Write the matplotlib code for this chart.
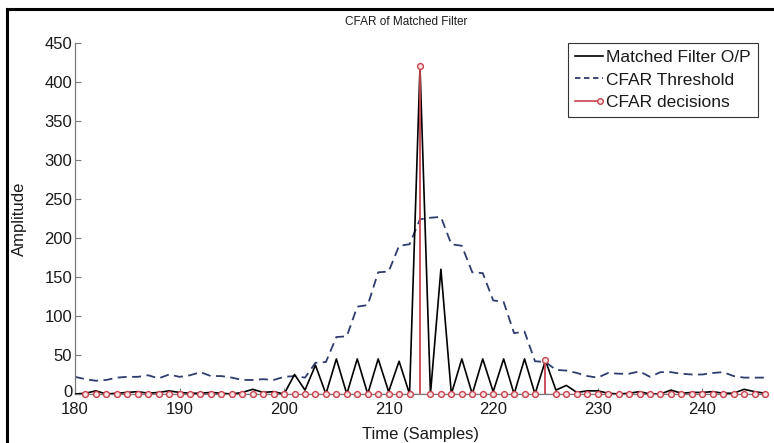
import matplotlib
matplotlib.use("Agg")
import matplotlib.pyplot as plt
import matplotlib.transforms as mtransforms
import numpy as np
from matplotlib.lines import Line2D
from matplotlib.legend_handler import HandlerBase

plt.rcParams['font.family'] = ['Liberation Sans', 'DejaVu Sans']

# ---- data ----
samples = list(range(180, 247))
matched_filter = [0, 1, 4, 0, 1, 2, 3, 1, 2, 4, 2, 1, 1, 2, 1, 0, 2, 6, 2, 3,
                  0, 25, 5, 37, 0, 45, 0, 45, 0, 45, 3, 42, 0, 420, 0, 160, 0, 45, 0, 45,
                  3, 45, 0, 45, 0, 43, 5, 11, 2, 4, 4, 1, 0, 1, 3, 0, 0, 5, 1, 2,
                  2, 3, 1, 1, 6, 3, 1]
cfar_threshold = [22, 19, 17, 18, 21, 22, 22, 24, 20, 25, 22, 24, 28, 23, 23, 21, 18, 18, 19, 18,
                  22, 23, 21, 40, 41, 73, 74, 112, 114, 156, 157, 190, 192, 224, 226, 227, 192, 190, 156, 155,
                  120, 118, 78, 80, 42, 41, 31, 30, 27, 23, 21, 27, 26, 26, 29, 22, 28, 28, 26, 25,
                  25, 27, 28, 23, 21, 21, 21]
decision_samples = list(range(181, 247))
decision_values = [420 if s == 213 else (43 if s == 225 else 0) for s in decision_samples]
xticks = [180, 190, 200, 210, 220, 230, 240]
yticks = [0, 50, 100, 150, 200, 250, 300, 350, 400, 450]

RED = '#C9434E'
BLUE = '#2F3C6E'

W, H = 774, 443
fig = plt.figure(figsize=(W / 100, H / 100), dpi=100)
ax = fig.add_axes([75 / W, (H - 394) / H, 690 / W, 351 / H])

ax.plot(samples, matched_filter, color='black', lw=1.2, zorder=3)
ax.plot(samples, cfar_threshold, color=BLUE, lw=1.3, dashes=(5, 3), zorder=2)

# stem plot of decisions
ax.plot([samples[0] + 1, samples[-1]], [0, 0], color=RED, lw=0.9, zorder=3.5)
for s, v in zip(decision_samples, decision_values):
    if v != 0:
        ax.plot([s, s], [0, v], color=RED, lw=1.3, zorder=4)
ax.plot(decision_samples, decision_values, linestyle='none', marker='o', ms=4.2,
        mfc='#F6E3E4', mec=RED, mew=1.0, zorder=5, clip_on=False)

ax.set_xlim(180, 246)
ax.set_ylim(0, 450)
ax.set_xticks(xticks)
ax.set_yticks(yticks)
ax.tick_params(direction='in', length=4, width=0.8, color='#7a7a7a', labelsize=12,
               labelcolor='#1a1a1a')
ax.tick_params(axis='y', pad=2)
ax.tick_params(axis='x', pad=6)
for side in ['top', 'right']:
    ax.spines[side].set_visible(False)
for side in ['left', 'bottom']:
    ax.spines[side].set_color('#7a7a7a')
    ax.spines[side].set_linewidth(0.9)

ax.set_ylabel('Amplitude', fontsize=12, color='#1a1a1a')
ax.yaxis.set_label_coords((27 - 75) / 690, 0.5)
ax.set_xlabel('Time (Samples)', fontsize=12, color='#1a1a1a')
ax.xaxis.set_label_coords(0.5, (394 - 427) / 351)

fig.text(406 / W, 1 - 22 / H, 'CFAR of Matched Filter', fontsize=8.5, ha='center',
         va='center', color='#1a1a1a')

# nudge the "0" y-tick label up slightly so it sits just above "180"
fig.canvas.draw()
zero_lbl = ax.get_yticklabels()[0]
zero_lbl.set_transform(zero_lbl.get_transform() +
                       mtransforms.ScaledTranslation(0, 3 / 100, fig.dpi_scale_trans))


class StemHandler(HandlerBase):
    def create_artists(self, legend, orig_handle, xdescent, ydescent, width, height,
                       fontsize, trans):
        y = height / 2 - ydescent
        line = Line2D([-xdescent, width - xdescent], [y, y], color=RED, lw=1.2,
                      transform=trans)
        mk = Line2D([width - xdescent - 2], [y], marker='o', ms=4, mfc='#F6E3E4',
                    mec=RED, mew=1.0, transform=trans)
        return [line, mk]


h1 = Line2D([], [], color='black', lw=1.2)
h2 = Line2D([], [], color=BLUE, lw=1.3, dashes=(3, 2))
h3 = Line2D([], [], color=RED)
leg = fig.legend([h1, h2, h3], ['Matched Filter O/P', 'CFAR Threshold', 'CFAR decisions'],
                 loc='upper right', bbox_to_anchor=(758 / W, 1 - 43 / H),
                 fontsize=12.5, handlelength=1.6, handletextpad=0.2, borderpad=0.4,
                 labelspacing=0.42, borderaxespad=0, fancybox=False, framealpha=1,
                 edgecolor='#333333', handler_map={h3: StemHandler()})
leg.get_frame().set_linewidth(0.8)
for t in leg.get_texts():
    t.set_color('#1a1a1a')

# outer screenshot frame (left and top)
fig.add_artist(Line2D([7 / W, 7 / W], [0, 1 - 9 / H], color='black', lw=2.2,
                      transform=fig.transFigure))
fig.add_artist(Line2D([7 / W, 1], [1 - 9 / H, 1 - 9 / H], color='black', lw=2.2,
                      transform=fig.transFigure))

fig.savefig('out.png', dpi=100)
